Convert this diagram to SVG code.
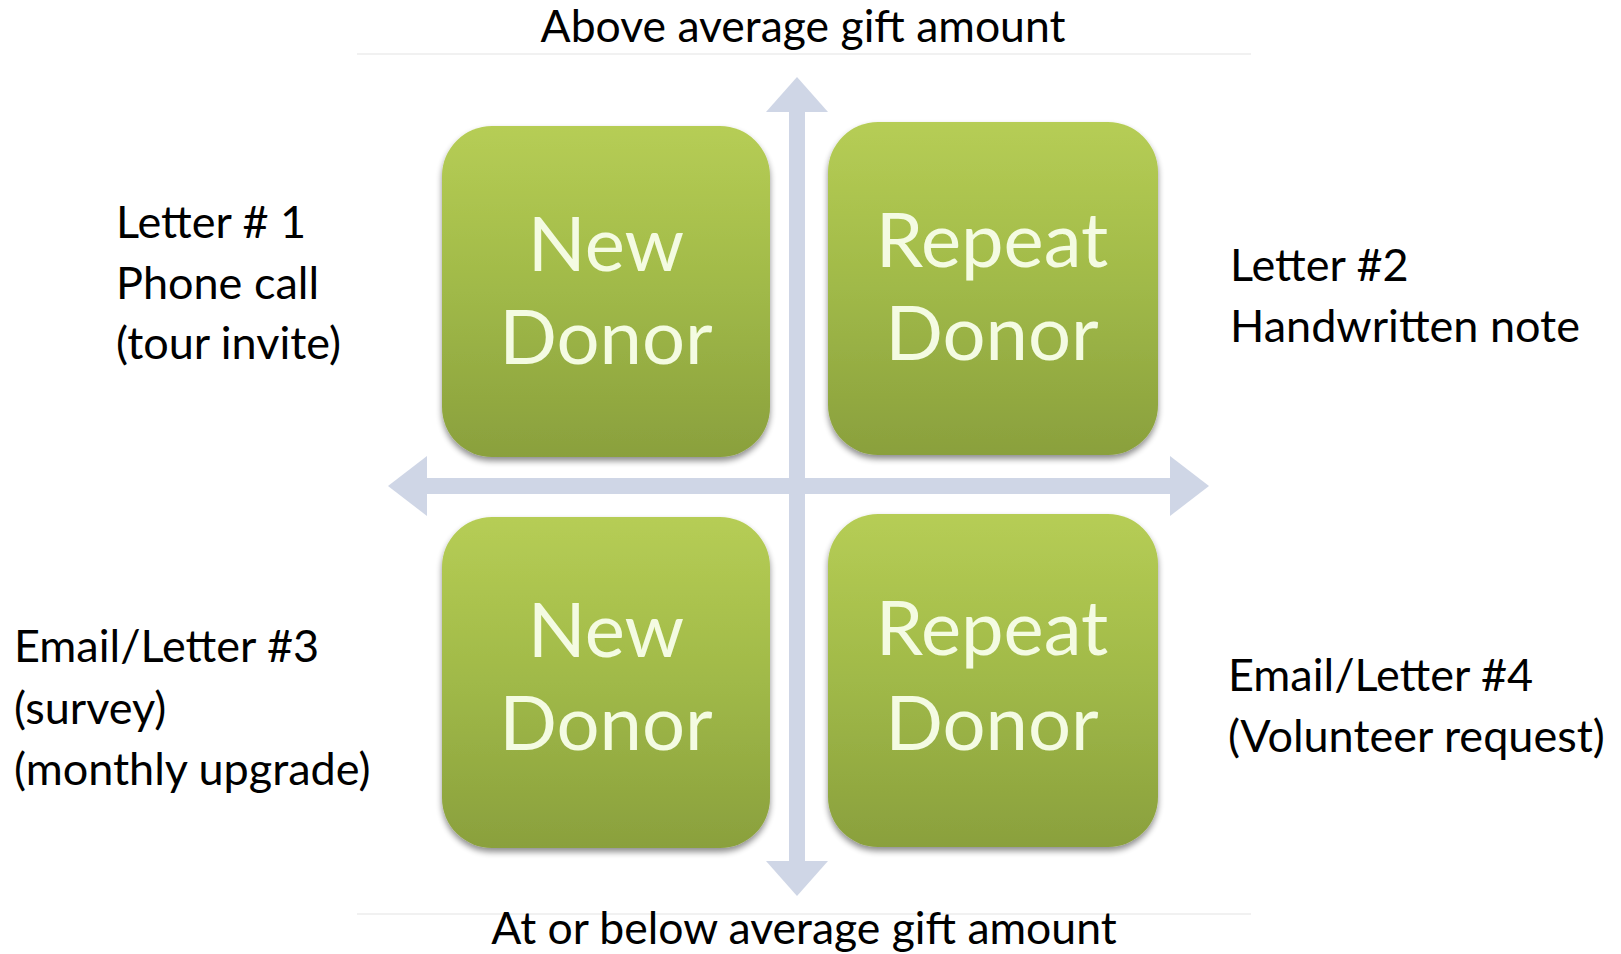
<svg xmlns="http://www.w3.org/2000/svg" width="1621" height="954" viewBox="0 0 1621 954">
<style>
.lbl{font-family:Lato,"Open Sans","Liberation Sans",sans-serif;font-size:45px;fill:#000}
.ttl{font-family:Lato,"Open Sans","Liberation Sans",sans-serif;font-size:44.5px;fill:#000;text-anchor:middle}
.box{fill:url(#g);filter:url(#sh)}
.bt{font-family:Lato,"Open Sans","Liberation Sans",sans-serif;font-size:76px;fill:#f4fbe2;text-anchor:middle}
.ax{fill:#cfd6e6}
</style>
<defs>
<linearGradient id="g" x1="0" y1="0" x2="0" y2="1">
<stop offset="0" stop-color="#b6cd55"/>
<stop offset="0.5" stop-color="#a0b948"/>
<stop offset="1" stop-color="#8aa03d"/>
</linearGradient>
<filter id="sh" x="-10%" y="-10%" width="120%" height="125%">
<feGaussianBlur in="SourceAlpha" stdDeviation="3"/>
<feOffset dy="4"/>
<feComponentTransfer><feFuncA type="linear" slope="0.45"/></feComponentTransfer>
<feMerge><feMergeNode/><feMergeNode in="SourceGraphic"/></feMerge>
</filter>
</defs>
<rect width="1621" height="954" fill="#fff"/>
<line x1="357" y1="54" x2="1251" y2="54" stroke="#f1f1f1" stroke-width="2"/>
<line x1="357" y1="914" x2="1251" y2="914" stroke="#f1f1f1" stroke-width="2"/>
<g id="connectors">
<rect class="ax" x="789" y="108" width="16" height="756"/>
<polygon class="ax" points="797,77 828,112 766,112"/>
<polygon class="ax" points="797,896 828,861 766,861"/>
<rect class="ax" x="420" y="478" width="756" height="16"/>
<polygon class="ax" points="388,486 427,456 427,516"/>
<polygon class="ax" points="1209,486 1170,456 1170,516"/>
</g>
<g id="new-above">
<rect class="box" x="442" y="126" width="328" height="331" rx="50"/>
<text class="bt" x="606" y="271">New</text>
<text class="bt" x="606" y="364">Donor</text>
</g>
<g id="repeat-above">
<rect class="box" x="828" y="122" width="330" height="333" rx="50"/>
<text class="bt" x="992" y="267">Repeat</text>
<text class="bt" x="992" y="360">Donor</text>
</g>
<g id="new-below">
<rect class="box" x="442" y="517" width="328" height="331" rx="50"/>
<text class="bt" x="606" y="657">New</text>
<text class="bt" x="606" y="750">Donor</text>
</g>
<g id="repeat-below">
<rect class="box" x="828" y="514" width="330" height="333" rx="50"/>
<text class="bt" x="992" y="655">Repeat</text>
<text class="bt" x="992" y="750">Donor</text>
</g>
<g id="title-top"><text class="ttl" x="803" y="42">Above average gift amount</text></g>
<g id="title-bottom"><text class="ttl" x="804" y="944">At or below average gift amount</text></g>
<g id="label-tl">
<text class="lbl" x="116" y="238">Letter # 1</text>
<text class="lbl" x="116" y="299">Phone call</text>
<text class="lbl" x="116" y="359">(tour invite)</text>
</g>
<g id="label-tr">
<text class="lbl" x="1230" y="281">Letter #2</text>
<text class="lbl" x="1230" y="342">Handwritten note</text>
</g>
<g id="label-bl">
<text class="lbl" x="14" y="662">Email/Letter #3</text>
<text class="lbl" x="14" y="724">(survey)</text>
<text class="lbl" x="14" y="785">(monthly upgrade)</text>
</g>
<g id="label-br">
<text class="lbl" x="1228" y="691">Email/Letter #4</text>
<text class="lbl" x="1228" y="752">(Volunteer request)</text>
</g>
</svg>
